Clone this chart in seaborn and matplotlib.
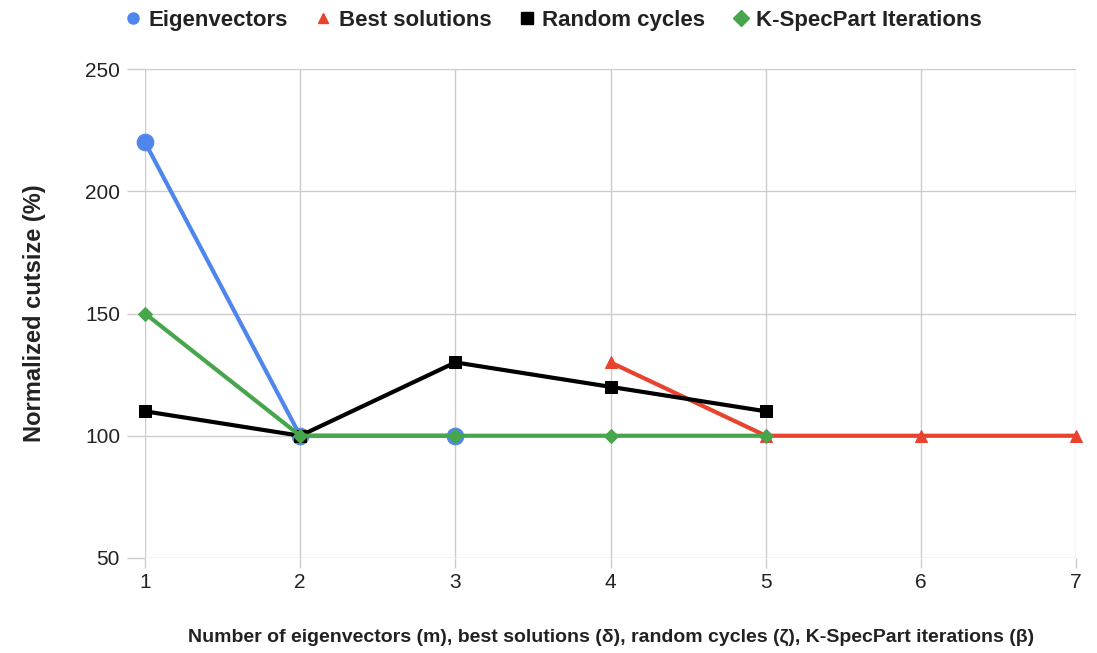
import pandas as pd
import seaborn as sns
import matplotlib.pyplot as plt
from matplotlib.lines import Line2D

# data
eig_x = [1, 2, 3]
eig_y = [220, 100, 100]
best_x = [4, 5, 6, 7]
best_y = [130, 100, 100, 100]
rand_x = [1, 2, 3, 4, 5]
rand_y = [110, 100, 130, 120, 110]
ksp_x = [1, 2, 3, 4, 5]
ksp_y = [150, 100, 100, 100, 100]

y_ticks = [50, 100, 150, 200, 250]
x_ticks = [1, 2, 3, 4, 5, 6, 7]

series = [
    ("Eigenvectors", eig_x, eig_y, "#4F86EC", "o", 12),
    ("Best solutions", best_x, best_y, "#E8432F", "^", 8),
    ("Random cycles", rand_x, rand_y, "#000000", "s", 8.5),
    ("K-SpecPart Iterations", ksp_x, ksp_y, "#47A54B", "D", 7),
]

sns.set_style("white")
plt.rcParams['font.family'] = ['Liberation Sans', 'DejaVu Sans']

fig = plt.figure(figsize=(10.97, 6.53), dpi=100)
ax = fig.add_axes([0.1322, 0.1455, 0.8488, 0.7488])

handles = []
for name, xs, ys, col, mk, ms in series:
    df = pd.DataFrame({"x": xs, "y": ys})
    sns.lineplot(data=df, x="x", y="y", ax=ax, color=col, marker=mk,
                 markersize=ms, markeredgecolor=col, linewidth=3,
                 errorbar=None, zorder=3, clip_on=False)
    handles.append(Line2D([], [], linestyle="none", marker=mk, color=col,
                          markersize=8 if mk != "^" else 7, label=name))

ax.set_xlim(1, 7)
ax.set_ylim(50, 250)
ax.set_xticks(x_ticks)
ax.set_yticks(y_ticks)
ax.grid(True, color="#CCCCCC", linewidth=1)
for s in ax.spines.values():
    s.set_visible(False)
ax.tick_params(axis="y", left=True, length=13, width=1, color="#CCCCCC",
               labelsize=15, labelcolor="#222222", pad=5)
ax.tick_params(axis="x", bottom=True, length=7, width=1, color="#CCCCCC",
               labelsize=15, labelcolor="#222222", pad=4)
ax.set_axisbelow(True)

ax.set_ylabel("Normalized cutsize (%)", fontsize=17, fontweight="bold",
              color="#222222", labelpad=28)
ax.set_xlabel("Number of eigenvectors (m), best solutions (δ), random cycles (ζ), K-SpecPart iterations (β)",
              fontsize=14, fontweight="bold", color="#222222", labelpad=26)

fig.legend(handles=handles, loc="upper center", bbox_to_anchor=(0.503, 1.015),
           ncol=4, frameon=False, prop={"weight": "bold", "size": 16},
           labelcolor="#222222", handletextpad=0.2, columnspacing=1.1,
           handlelength=1.0)

fig.savefig("out.png", dpi=100)
